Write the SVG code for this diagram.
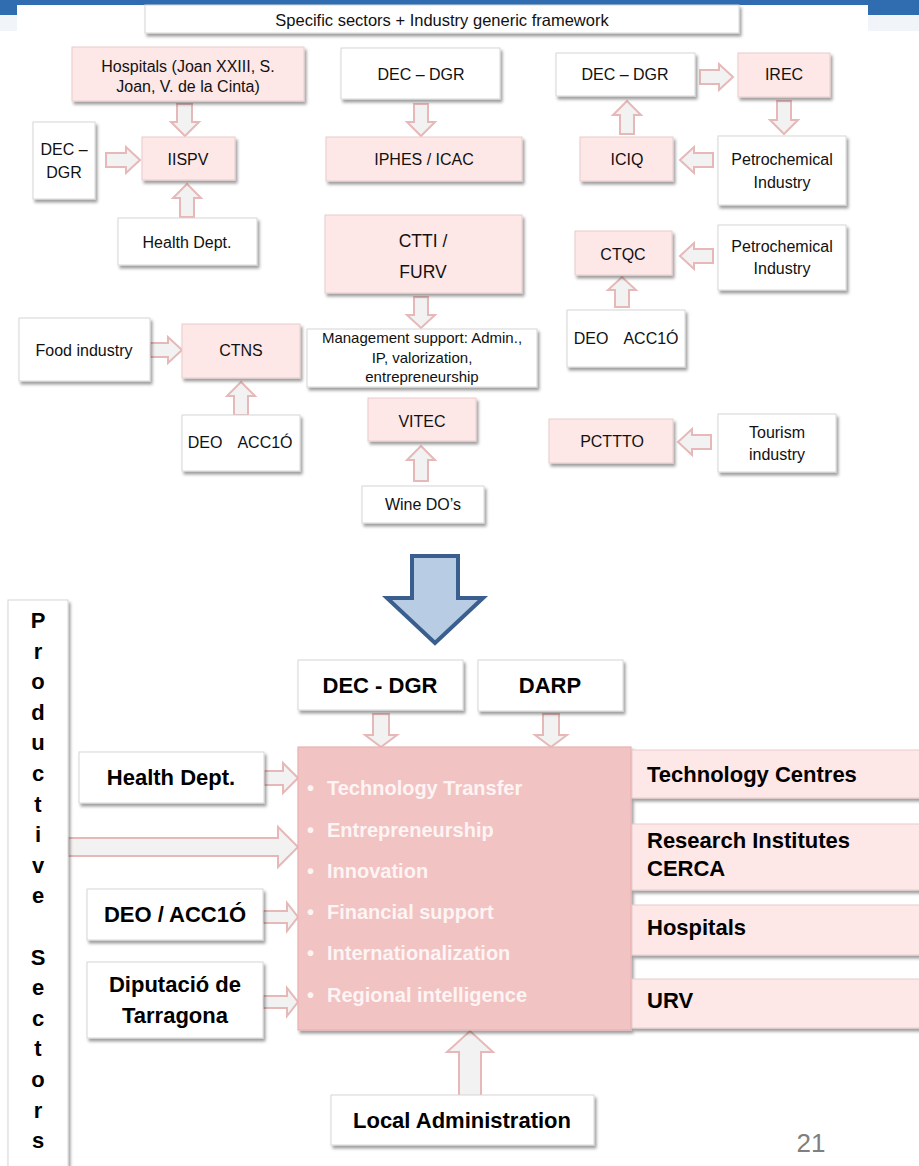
<svg xmlns="http://www.w3.org/2000/svg" width="919" height="1166" viewBox="0 0 919 1166">
<defs>
<filter id="sh" x="-10%" y="-10%" width="130%" height="140%">
<feDropShadow dx="2" dy="3" stdDeviation="1.4" flood-color="#000" flood-opacity="0.38"/>
</filter>
<style>
.t{font-family:"Liberation Sans",Arial,sans-serif;font-size:16px;fill:#111;text-anchor:middle}
.tb{font-family:"Liberation Sans",Arial,sans-serif;font-size:22px;font-weight:bold;fill:#000;text-anchor:middle}
.tl{font-family:"Liberation Sans",Arial,sans-serif;font-size:22px;font-weight:bold;fill:#000}
.bl{font-family:"Liberation Sans",Arial,sans-serif;font-size:20px;font-weight:bold;fill:#fdf4f4}
.ps{font-family:"Liberation Sans",Arial,sans-serif;font-size:22px;font-weight:bold;fill:#000;text-anchor:middle}
.w{fill:#ffffff;stroke:#d6d6d6;stroke-width:1;filter:url(#sh)}
.p{fill:#fde7e7;stroke:#e9cccc;stroke-width:1;filter:url(#sh)}
.pb{fill:#f2c3c3;stroke:#e8b2b2;stroke-width:1.2;filter:url(#sh)}
.ar{fill:#f2f2f2;stroke:#e6b9b8;stroke-width:2;stroke-linejoin:miter}
</style>
</defs>
<rect x="0" y="0" width="919" height="1166" fill="#ffffff"/>
<rect x="0" y="0" width="919" height="15" fill="#2f6db0"/>
<rect x="0" y="15" width="919" height="16" fill="#f1f5fa"/>
<rect x="17" y="5" width="851" height="40" fill="#ffffff"/>

<g id="connectors">
<polygon class="ar" points="177,104 192,104 192,122 199,122 185,136 171,122 177,122"/>
<polygon class="ar" points="414,104 428,104 428,122 435,122 421,136 407,122 414,122"/>
<polygon class="ar" points="777,101 791,101 791,120 798,120 784,134 770,120 777,120"/>
<polygon class="ar" points="414,297 428,297 428,315 435,315 421,328 407,315 414,315"/>
<polygon class="ar" points="180,217 194,217 194,198 201,198 187,184 173,198 180,198"/>
<polygon class="ar" points="620,134 634,134 634,115 641,115 627,101 613,115 620,115"/>
<polygon class="ar" points="615,307 629,307 629,290 636,290 622,277 608,290 615,290"/>
<polygon class="ar" points="234,415 248,415 248,396 255,396 241,382 227,396 234,396"/>
<polygon class="ar" points="414,481 428,481 428,460 435,460 421,446 407,460 414,460"/>
<polygon class="ar" points="106,153 126,153 126,147 140,160 126,173 126,167 106,167"/>
<polygon class="ar" points="150,343 168,343 168,337 182,350 168,363 168,357 150,357"/>
<polygon class="ar" points="700,70 719,70 719,64 733,77 719,90 719,84 700,84"/>
<polygon class="ar" points="713,153 694,153 694,147 680,160 694,173 694,167 713,167"/>
<polygon class="ar" points="713,249 694,249 694,243 680,256 694,269 694,263 713,263"/>
<polygon class="ar" points="711,435 692,435 692,429 678,442 692,455 692,449 711,449"/>
<polygon points="412,556 458,556 458,598 483,598 435,643 387,598 412,598" fill="#b8cce4" stroke="#3a5f8f" stroke-width="4" stroke-linejoin="miter"/>
<polygon class="ar" points="373,714 389,714 389,735 397,735 381,747 365,735 373,735"/>
<polygon class="ar" points="543,714 559,714 559,735 567,735 551,747 535,735 543,735"/>
<polygon class="ar" points="264,771 283,771 283,763 298,778 283,793 283,785 264,785"/>
<polygon class="ar" points="68,838 278,838 278,827 298,847 278,867 278,856 68,856"/>
<polygon class="ar" points="263,911 287,911 287,903 298,917 287,931 287,923 263,923"/>
<polygon class="ar" points="263,996 287,996 287,988 298,1002 287,1016 287,1008 263,1008"/>
<polygon class="ar" points="459,1098 481,1098 481,1052 493,1052 470,1031 447,1052 459,1052"/>
</g>

<g id="header"><rect class="w" x="145" y="5" width="594" height="28"/><text class="t" x="442" y="26" style="font-size:16.5px">Specific sectors + Industry generic framework</text></g>
<g id="hospitals"><rect class="p" x="72" y="47" width="232" height="54"/><text class="t" x="188" y="72">Hospitals (Joan XXIII, S.</text><text class="t" x="188" y="92">Joan, V. de la Cinta)</text></g>
<g id="dec-dgr-mid"><rect class="w" x="341" y="48" width="159" height="51"/><text class="t" x="421" y="80">DEC – DGR</text></g>
<g id="dec-dgr-right"><rect class="w" x="556" y="53" width="139" height="43"/><text class="t" x="625" y="80">DEC – DGR</text></g>
<g id="irec"><rect class="p" x="738" y="53" width="92" height="44"/><text class="t" x="784" y="80">IREC</text></g>
<g id="dec-dgr-left"><rect class="w" x="33" y="122" width="62" height="77"/><text class="t" x="64" y="155">DEC –</text><text class="t" x="64" y="178">DGR</text></g>
<g id="iispv"><rect class="p" x="142" y="137" width="93" height="43"/><text class="t" x="188" y="165">IISPV</text></g>
<g id="iphes"><rect class="p" x="326" y="137" width="196" height="44"/><text class="t" x="424" y="165">IPHES / ICAC</text></g>
<g id="iciq"><rect class="p" x="580" y="137" width="93" height="44"/><text class="t" x="627" y="165">ICIQ</text></g>
<g id="petro1"><rect class="w" x="718" y="136" width="128" height="69"/><text class="t" x="782" y="165">Petrochemical</text><text class="t" x="782" y="188">Industry</text></g>
<g id="health-top"><rect class="w" x="118" y="218" width="139" height="47"/><text class="t" x="187" y="248">Health Dept.</text></g>
<g id="ctti"><rect class="p" x="325" y="215" width="197" height="78"/><text class="t" x="423" y="247" style="font-size:17.5px">CTTI /</text><text class="t" x="423" y="278" style="font-size:17.5px">FURV</text></g>
<g id="ctqc"><rect class="p" x="575" y="231" width="97" height="44"/><text class="t" x="623" y="260">CTQC</text></g>
<g id="petro2"><rect class="w" x="718" y="225" width="128" height="65"/><text class="t" x="782" y="252">Petrochemical</text><text class="t" x="782" y="274">Industry</text></g>
<g id="deo-right"><rect class="w" x="567" y="310" width="118" height="57"/><text class="t" x="591" y="344">DEO</text><text class="t" x="651" y="344">ACC1Ó</text></g>
<g id="food"><rect class="w" x="19" y="318" width="131" height="63"/><text class="t" x="84" y="356">Food industry</text></g>
<g id="ctns"><rect class="p" x="182" y="324" width="118" height="54"/><text class="t" x="241" y="356">CTNS</text></g>
<g id="mgmt"><rect class="w" x="307" y="329" width="230" height="58"/><text class="t" x="422" y="343" style="font-size:15px">Management support: Admin.,</text><text class="t" x="422" y="363" style="font-size:15px">IP, valorization,</text><text class="t" x="422" y="382" style="font-size:15px">entrepreneurship</text></g>
<g id="vitec"><rect class="p" x="368" y="398" width="108" height="43"/><text class="t" x="422" y="427">VITEC</text></g>
<g id="pctto"><rect class="p" x="549" y="419" width="124" height="44"/><text class="t" x="612" y="447">PCTTTO</text></g>
<g id="tourism"><rect class="w" x="718" y="414" width="118" height="58"/><text class="t" x="777" y="438">Tourism</text><text class="t" x="777" y="460">industry</text></g>
<g id="deo-left"><rect class="w" x="182" y="415" width="118" height="56"/><text class="t" x="205" y="448">DEO</text><text class="t" x="265" y="448">ACC1Ó</text></g>
<g id="wine"><rect class="w" x="362" y="486" width="122" height="37"/><text class="t" x="423" y="510">Wine DO’s</text></g>

<g id="productive-sectors"><rect class="w" x="8" y="600" width="60" height="575"/>
<text class="ps" x="38" y="628">P</text><text class="ps" x="38" y="659">r</text><text class="ps" x="38" y="689">o</text><text class="ps" x="38" y="720">d</text><text class="ps" x="38" y="750">u</text><text class="ps" x="38" y="781">c</text><text class="ps" x="38" y="812">t</text><text class="ps" x="38" y="842">i</text><text class="ps" x="38" y="873">v</text><text class="ps" x="38" y="903">e</text>
<text class="ps" x="38" y="965">S</text><text class="ps" x="38" y="995">e</text><text class="ps" x="38" y="1026">c</text><text class="ps" x="38" y="1056">t</text><text class="ps" x="38" y="1087">o</text><text class="ps" x="38" y="1118">r</text><text class="ps" x="38" y="1148">s</text>
</g>
<g id="dec-dgr-bottom"><rect class="w" x="298" y="660" width="165" height="50"/><text class="tb" x="380" y="693">DEC - DGR</text></g>
<g id="darp"><rect class="w" x="478" y="660" width="145" height="51"/><text class="tb" x="550" y="693">DARP</text></g>
<g id="health-bottom"><rect class="w" x="79" y="752" width="185" height="51"/><text class="tb" x="171" y="785">Health Dept.</text></g>
<g id="deo-acc1o"><rect class="w" x="87" y="889" width="176" height="51"/><text class="tb" x="175" y="922">DEO / ACC1Ó</text></g>
<g id="diputacio"><rect class="w" x="87" y="962" width="176" height="76"/><text class="tb" x="175" y="992">Diputació de</text><text class="tb" x="175" y="1023">Tarragona</text></g>
<g id="services"><rect class="pb" x="298" y="747" width="333" height="283"/>
<text class="bl" x="307" y="795">•</text><text class="bl" x="327" y="795">Technology Transfer</text>
<text class="bl" x="307" y="837">•</text><text class="bl" x="327" y="837">Entrepreneurship</text>
<text class="bl" x="307" y="878">•</text><text class="bl" x="327" y="878">Innovation</text>
<text class="bl" x="307" y="919">•</text><text class="bl" x="327" y="919">Financial support</text>
<text class="bl" x="307" y="960">•</text><text class="bl" x="327" y="960">Internationalization</text>
<text class="bl" x="307" y="1002">•</text><text class="bl" x="327" y="1002">Regional intelligence</text>
</g>
<g id="tech-centres"><rect class="p" x="632" y="750" width="295" height="48"/><text class="tl" x="647" y="782">Technology Centres</text></g>
<g id="research"><rect class="p" x="632" y="824" width="295" height="66"/><text class="tl" x="647" y="848">Research Institutes</text><text class="tl" x="647" y="876">CERCA</text></g>
<g id="hospitals-bottom"><rect class="p" x="632" y="905" width="295" height="50"/><text class="tl" x="647" y="935">Hospitals</text></g>
<g id="urv"><rect class="p" x="632" y="979" width="295" height="49"/><text class="tl" x="647" y="1008">URV</text></g>
<g id="local-admin"><rect class="w" x="331" y="1095" width="263" height="50"/><text class="tb" x="462" y="1128">Local Administration</text></g>
<text x="811" y="1152" style="font-family:'Liberation Sans',Arial,sans-serif;font-size:26px;fill:#7f7f7f;text-anchor:middle">21</text>
</svg>
